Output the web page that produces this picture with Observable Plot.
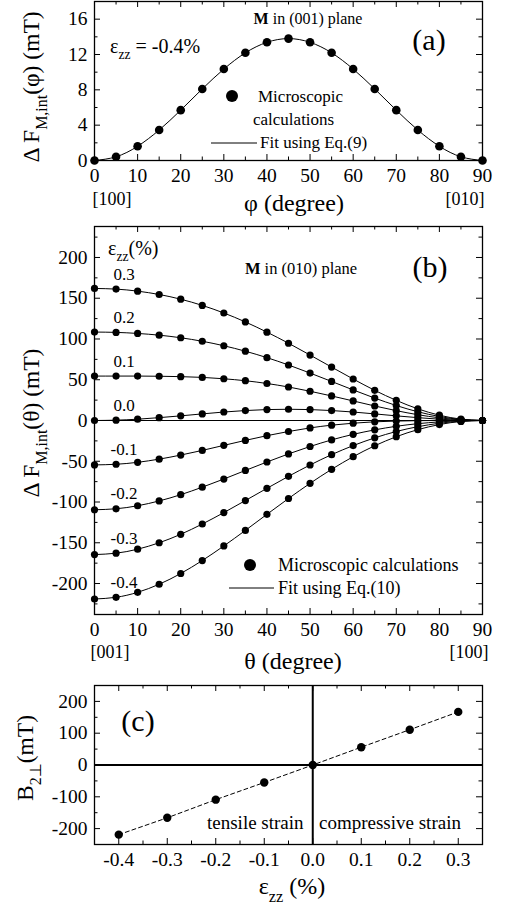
<!DOCTYPE html>
<html><head><meta charset="utf-8">
<script src="https://cdn.jsdelivr.net/npm/d3@7"></script>
<script src="https://cdn.jsdelivr.net/npm/@observablehq/plot@0.6"></script>
<style>
body{margin:0;background:#fff;}
#c{width:505px;}
#c svg{display:block;overflow:visible;}
</style></head><body><div id="c"></div>
<script>
// ---------- data ----------
const phi = [0,5,10,15,20,25,30,35,40,45,50,55,60,65,70,75,80,85,90];
const dFphi = [0,0.42,1.61,3.45,5.70,8.10,10.35,12.19,13.38,13.8,13.38,12.19,10.35,8.10,5.70,3.45,1.61,0.42,0];

const theta = [0,5,10,15,20,25,30,35,40,45,50,55,60,65,70,75,80,85,90];
const strainLabels = ["0.3","0.2","0.1","0.0","-0.1","-0.2","-0.3","-0.4"];
const eps03  = [162.0,161.2,158.7,154.6,148.8,141.2,131.9,120.9,108.4,94.8,80.3,65.5,50.9,37.0,24.7,14.3,6.5,1.7,0];
const eps02  = [108.5,108.1,106.8,104.7,101.5,97.2,91.7,85.0,77.1,68.1,58.2,47.9,37.5,27.5,18.4,10.7,4.9,1.2,0];
const eps01  = [54.5,54.5,54.5,54.3,53.8,52.9,51.2,48.8,45.4,41.1,35.9,30.1,24.0,17.8,12.1,7.1,3.3,0.8,0];
const eps00  = [0,0.4,1.6,3.5,5.7,8.1,10.4,12.2,13.4,13.8,13.4,12.2,10.4,8.1,5.7,3.5,1.6,0.4,0];
const epsM01 = [-54.5,-53.7,-51.3,-47.4,-42.4,-36.7,-30.5,-24.4,-18.6,-13.5,-9.1,-5.7,-3.3,-1.6,-0.7,-0.2,0,0,0];
const epsM02 = [-109.5,-108.3,-104.6,-98.7,-91.0,-81.8,-71.8,-61.3,-50.9,-41.0,-31.9,-23.8,-17.0,-11.5,-7.1,-3.9,-1.7,-0.4,0];
const epsM03 = [-164.5,-162.8,-157.9,-150.0,-139.6,-127.0,-113.0,-98.2,-83.2,-68.5,-54.6,-41.9,-30.8,-21.3,-13.5,-7.6,-3.4,-0.8,0];
const epsM04 = [-219.0,-216.9,-210.8,-200.9,-187.7,-171.8,-153.9,-134.8,-115.1,-95.7,-77.1,-59.9,-44.4,-31.0,-19.9,-11.2,-5.0,-1.2,0];
const seriesB = [eps03, eps02, eps01, eps00, epsM01, epsM02, epsM03, epsM04];

const strain = [-0.4,-0.3,-0.2,-0.1,0,0.1,0.2,0.3];
const B2perp = [-219,-166,-109,-55,0,56,111,167];

const ticksA = {xMaj:[0,10,20,30,40,50,60,70,80,90], xMin:[5,15,25,35,45,55,65,75,85], yMaj:[0,4,8,12,16], yMin:[2,6,10,14]};
const ticksB = {xMaj:[0,10,20,30,40,50,60,70,80,90], xMin:[5,15,25,35,45,55,65,75,85], yMaj:[-200,-150,-100,-50,0,50,100,150,200], yMin:[-225,-175,-125,-75,-25,25,75,125,175,225]};
const ticksC = {xMaj:[-0.4,-0.3,-0.2,-0.1,0,0.1,0.2,0.3], xMin:[-0.45,-0.35,-0.25,-0.15,-0.05,0.05,0.15,0.25,0.35], yMaj:[-200,-100,0,100,200], yMin:[-250,-150,-50,50,150,250]};

// ---------- helpers ----------
const FONT = '"Liberation Serif", "Times New Roman", serif';
const W = 505;
const TICKFS = 19.5;

function tickMarks(t, pw, ph) {
  const L = 6, l = 3.5, s = {stroke:"black", strokeWidth:1};
  return [
    Plot.ruleX(t.xMaj, {...s, insetTop: ph - L}),
    Plot.ruleX(t.xMaj, {...s, insetBottom: ph - L}),
    Plot.ruleX(t.xMin, {...s, insetTop: ph - l}),
    Plot.ruleX(t.xMin, {...s, insetBottom: ph - l}),
    Plot.ruleY(t.yMaj, {...s, insetRight: pw - L}),
    Plot.ruleY(t.yMaj, {...s, insetLeft: pw - L}),
    Plot.ruleY(t.yMin, {...s, insetRight: pw - l}),
    Plot.ruleY(t.yMin, {...s, insetLeft: pw - l})
  ];
}
function axes(t, xfmt, yfmt) {
  return [
    Plot.axisX(t.xMaj, {anchor:"bottom", tickSize:0, tickPadding:8, fontSize:TICKFS, label:null, tickFormat:xfmt}),
    Plot.axisY(t.yMaj, {anchor:"left", tickSize:0, tickPadding:7, fontSize:TICKFS, label:null, tickFormat:yfmt})
  ];
}
function addText(svg, {x, y, rotate=0, anchor="start", size=17, parts}) {
  const t = d3.select(svg).append("text")
    .attr("transform", `translate(${x},${y})` + (rotate ? ` rotate(${rotate})` : ""))
    .attr("text-anchor", anchor).attr("font-size", size)
    .attr("font-family", FONT).attr("fill", "black");
  let shift = 0;
  for (const [txt, kind] of parts) {
    const s = t.append("tspan").text(txt);
    if (kind === "sub") {
      const d = size * 0.32;
      s.attr("font-size", size * 0.68).attr("dy", d - shift);
      shift = d;
    } else {
      if (shift) s.attr("dy", -shift);
      shift = 0;
      if (kind === "b") s.attr("font-weight", "bold");
    }
  }
}
function addLegend(svg, {cx, cy, r, lines, lx1, lx2, ly, fit, size}) {
  const g = d3.select(svg);
  g.append("circle").attr("cx", cx).attr("cy", cy).attr("r", r).attr("fill", "black");
  g.append("line").attr("x1", lx1).attr("x2", lx2).attr("y1", ly).attr("y2", ly).attr("stroke", "black").attr("stroke-width", 1);
  lines.forEach(([txt, x, y]) => addText(svg, {x, y, size, parts:[[txt,"n"]]}));
  addText(svg, {x: fit[1], y: fit[2], size, parts:[[fit[0],"n"]]});
}
const container = document.getElementById("c");
const style = {fontFamily: FONT, background: "white", color: "black", fontSize: TICKFS + "px"};

// ---------- panel (a) ----------
{
  const m = {top:1, bottom:55, left:94, right:23}, H = 215;
  const pw = W - m.left - m.right, ph = H - m.top - m.bottom;
  const rows = phi.map((p, i) => ({phi: p, v: dFphi[i]}));
  const svg = Plot.plot({
    width: W, height: H, marginTop: m.top, marginBottom: m.bottom, marginLeft: m.left, marginRight: m.right,
    style, x: {domain: [0, 90], label: null}, y: {domain: [0, 18], label: null},
    marks: [
      ...tickMarks(ticksA, pw, ph),
      Plot.line(rows, {x: "phi", y: "v", curve: "natural", stroke: "black", strokeWidth: 1}),
      Plot.dot(rows, {x: "phi", y: "v", r: 4.3, fill: "black"}),
      Plot.frame({stroke: "black", strokeWidth: 1.3}),
      ...axes(ticksA, d => String(d), d => String(d))
    ]
  });
  container.appendChild(svg);
  addText(svg, {x: 39, y: 87, rotate: -90, anchor: "middle", size: 23.5, parts: [["Δ F","n"],["M,int","sub"],["(φ) (mT)","n"]]});
  addText(svg, {x: 294, y: 211, anchor: "middle", size: 24, parts: [["φ (degree)","n"]]});
  addText(svg, {x: 112, y: 205, anchor: "middle", size: 18, parts: [["[100]","n"]]});
  addText(svg, {x: 465, y: 205, anchor: "middle", size: 18, parts: [["[010]","n"]]});
  addText(svg, {x: 308, y: 24, anchor: "middle", size: 16, parts: [["M","b"],[" in (001) plane","n"]]});
  addText(svg, {x: 429, y: 50, anchor: "middle", size: 30, parts: [["(a)","n"]]});
  addText(svg, {x: 110, y: 53, size: 20, parts: [["ε","n"],["zz","sub"],[" = -0.4%","n"]]});
  addLegend(svg, {cx: 232, cy: 96, r: 6, size: 17,
    lines: [["Microscopic", 258, 102], ["calculations", 253, 125]],
    lx1: 211, lx2: 257, ly: 143, fit: ["Fit using Eq.(9)", 260, 148]});
}

// ---------- panel (b) ----------
{
  const top = 215, m = {top:11, bottom:66, left:94, right:23}, H = 465;
  const pw = W - m.left - m.right, ph = H - m.top - m.bottom;
  const rows = [];
  strainLabels.forEach((lab, k) => theta.forEach((t, i) => rows.push({eps: lab, theta: t, v: seriesB[k][i]})));
  const labs = strainLabels.map((lab, k) => ({eps: lab, theta: theta[1], v: seriesB[k][1]}));
  const svg = Plot.plot({
    width: W, height: H, marginTop: m.top, marginBottom: m.bottom, marginLeft: m.left, marginRight: m.right,
    style, x: {domain: [0, 90], label: null}, y: {domain: [-238, 238], label: null},
    marks: [
      ...tickMarks(ticksB, pw, ph),
      Plot.ruleY([0], {stroke: "black", strokeWidth: 1.2}),
      Plot.line(rows, {x: "theta", y: "v", z: "eps", curve: "natural", stroke: "black", strokeWidth: 1}),
      Plot.dot(rows, {x: "theta", y: "v", r: 3.6, fill: "black"}),
      Plot.text(labs, {x: "theta", y: "v", text: "eps", dx: 8, dy: -15, fontSize: 17, fill: "black"}),
      Plot.frame({stroke: "black", strokeWidth: 1.3}),
      ...axes(ticksB, d => String(d), d => String(d))
    ]
  });
  container.appendChild(svg);
  addText(svg, {x: 39, y: 423 - top, rotate: -90, anchor: "middle", size: 23.5, parts: [["Δ F","n"],["M,int","sub"],["(θ) (mT)","n"]]});
  addText(svg, {x: 293, y: 669 - top, anchor: "middle", size: 24, parts: [["θ (degree)","n"]]});
  addText(svg, {x: 110, y: 658 - top, anchor: "middle", size: 18, parts: [["[001]","n"]]});
  addText(svg, {x: 469, y: 658 - top, anchor: "middle", size: 18, parts: [["[100]","n"]]});
  addText(svg, {x: 108, y: 255 - top, size: 20, parts: [["ε","n"],["zz","sub"],["(%)","n"]]});
  addText(svg, {x: 301, y: 274 - top, anchor: "middle", size: 16.5, parts: [["M","b"],[" in (010) plane","n"]]});
  addText(svg, {x: 430, y: 277 - top, anchor: "middle", size: 30, parts: [["(b)","n"]]});
  addLegend(svg, {cx: 250, cy: 565 - top, r: 6, size: 18,
    lines: [["Microscopic calculations", 278, 571 - top]],
    lx1: 229, lx2: 274, ly: 588 - top, fit: ["Fit using Eq.(10)", 278, 594 - top]});
}

// ---------- panel (c) ----------
{
  const top = 680, m = {top:5, bottom:62, left:94, right:23}, H = 226;
  const pw = W - m.left - m.right, ph = H - m.top - m.bottom;
  const rows = strain.map((s, i) => ({s, b: B2perp[i]}));
  const svg = Plot.plot({
    width: W, height: H, marginTop: m.top, marginBottom: m.bottom, marginLeft: m.left, marginRight: m.right,
    style, x: {domain: [-0.45, 0.35], label: null}, y: {domain: [-250, 250], label: null},
    marks: [
      ...tickMarks(ticksC, pw, ph),
      Plot.ruleY([0], {stroke: "black", strokeWidth: 2}),
      Plot.ruleX([0], {stroke: "black", strokeWidth: 2}),
      Plot.line(rows, {x: "s", y: "b", stroke: "black", strokeWidth: 1, strokeDasharray: "4,3"}),
      Plot.dot(rows, {x: "s", y: "b", r: 4.2, fill: "black"}),
      Plot.frame({stroke: "black", strokeWidth: 1.3}),
      ...axes(ticksC, d => d.toFixed(1), d => String(d))
    ]
  });
  container.appendChild(svg);
  addText(svg, {x: 33, y: 758 - top, rotate: -90, anchor: "middle", size: 23.5, parts: [["B","n"],["2⊥","sub"],["(mT)","n"]]});
  addText(svg, {x: 292, y: 894 - top, anchor: "middle", size: 24, parts: [["ε","n"],["zz","sub"],[" (%)","n"]]});
  addText(svg, {x: 138, y: 731 - top, anchor: "middle", size: 30, parts: [["(c)","n"]]});
  addText(svg, {x: 207, y: 829 - top, size: 19, parts: [["tensile strain","n"]]});
  addText(svg, {x: 319, y: 829 - top, size: 19, parts: [["compressive strain","n"]]});
}
</script></body></html>
